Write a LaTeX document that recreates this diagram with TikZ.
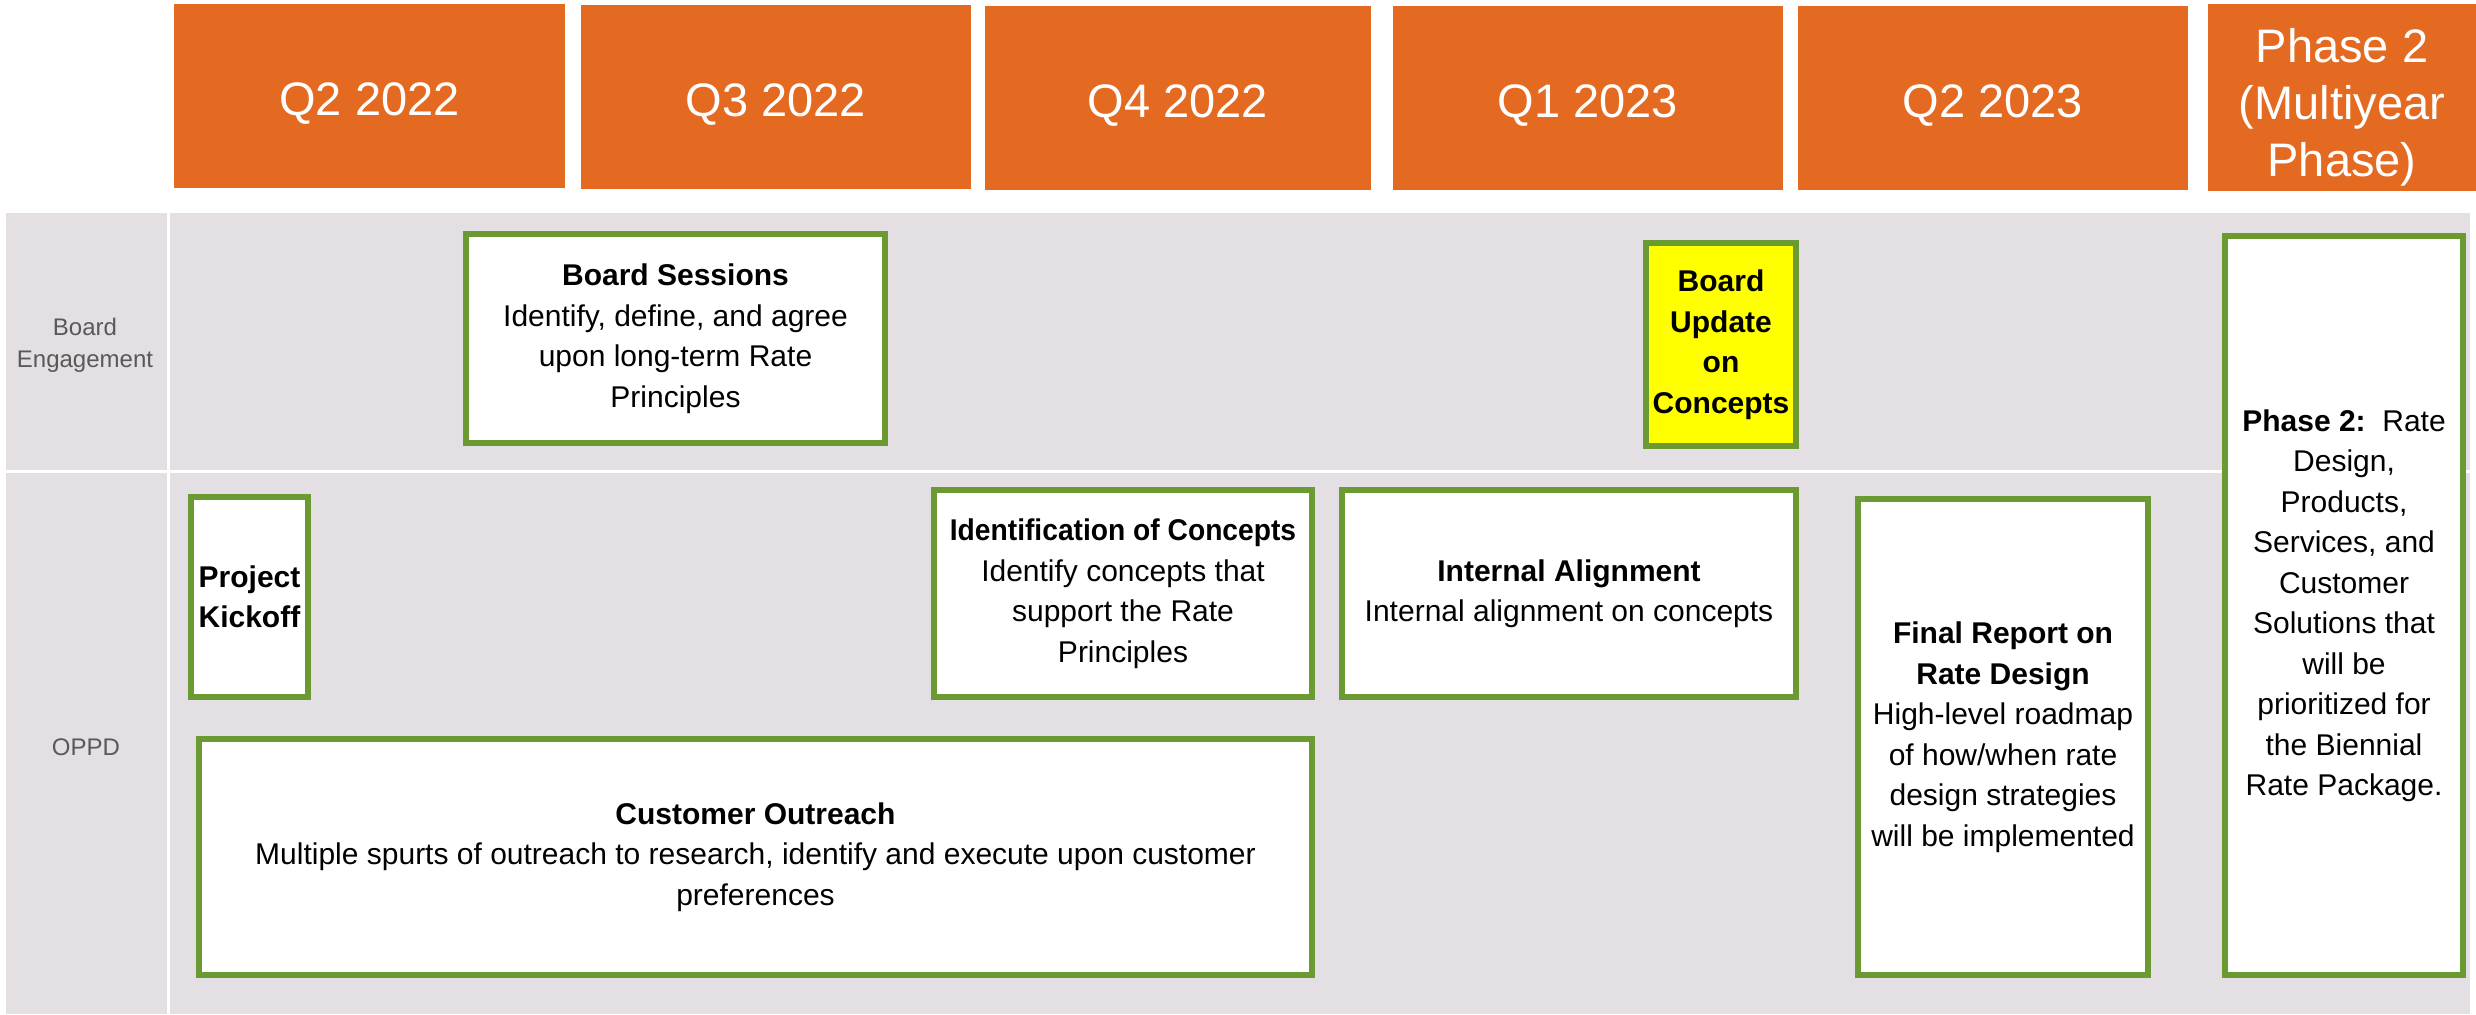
\documentclass[tikz,border=0pt]{standalone}
\usepackage{fontspec}
\setmainfont{Liberation Sans}
\definecolor{hdrorange}{HTML}{E46A22}
\definecolor{boxgreen}{HTML}{6C9A32}
\definecolor{bggrey}{HTML}{E3DFE3}
\definecolor{lblgrey}{HTML}{595959}
\definecolor{hiyellow}{HTML}{FFFF00}
\begin{document}
\begin{tikzpicture}[x=0.5pt,y=-0.5pt,
  hdr/.style={fill=hdrorange, inner sep=0pt, minimum height=92pt},
  hdrtext/.style={text=white, inner sep=0pt, align=center,
    font=\fontsize{23.5}{28.5}\selectfont},
  task/.style={draw=boxgreen, line width=3pt, fill=white, inner sep=0pt, align=center,
    font=\fontsize{15}{20.25}\selectfont},
  lbl/.style={text=lblgrey, align=center, inner sep=0pt, font=\fontsize{12}{16}\selectfont}]
\useasboundingbox (0,0) rectangle (2476,1014);
% background
\fill[bggrey] (6,213) rectangle (2470,1014);
\fill[white] (167,213) rectangle (170,1014);
\fill[white] (6,470) rectangle (2470,473);
% headers
\node[hdr, minimum width=195.5pt] (h1) at (369.5,96) {};
\node[hdr, minimum width=195pt] (h2) at (776,97) {};
\node[hdr, minimum width=193pt] (h3) at (1178,98) {};
\node[hdr, minimum width=195pt] (h4) at (1588,98) {};
\node[hdr, minimum width=195pt] (h5) at (1993,98) {};
\node[hdr, minimum width=134pt, minimum height=93.5pt] (h6) at (2342,97.5) {};
\node[hdrtext, yshift=-4pt] (t1) at (h1) {Q2 2022};
\node[hdrtext, yshift=-4pt] (t2) at (h2) {Q3 2022};
\node[hdrtext, yshift=-4pt] (t3) at (h3) {Q4 2022};
\node[hdrtext, yshift=-4pt] (t4) at (h4) {Q1 2023};
\node[hdrtext, yshift=-4pt] (t5) at (h5) {Q2 2023};
\node[hdrtext, yshift=-5pt] (t6) at (h6) {Phase 2\\(Multiyear\\Phase)};
% row labels
\node[lbl] (rowboard) at (85,345) {Board\\Engagement};
\node[lbl] (rowoppd) at (86,747) {OPPD};
% tasks
\node[task, minimum width=209.5pt, minimum height=104.5pt] (sessions) at (675.5,338.5)
  {\textbf{Board Sessions}\\Identify, define, and agree\\upon long-term Rate\\Principles};
\node[task, fill=hiyellow, minimum width=75pt, minimum height=101.5pt] (update) at (1721,344.5)
  {\textbf{Board}\\\textbf{Update}\\\textbf{on}\\\textbf{Concepts}};
\node[task, minimum width=119pt, minimum height=369.5pt] (phase) at (2344,605.5)
  {\textbf{Phase 2:}\ \ Rate\\Design,\\Products,\\Services, and\\Customer\\Solutions that\\will be\\prioritized for\\the Biennial\\Rate Package.};
\node[task, minimum width=58.5pt, minimum height=100pt] (kickoff) at (249.5,597)
  {\textbf{Project}\\\textbf{Kickoff}};
\node[task, minimum width=189pt, minimum height=103.5pt] (ident) at (1123,593.5)
  {\scalebox{0.94}[1]{\textbf{Identification of Concepts}}\\Identify concepts that\\support the Rate\\Principles};
\node[task, minimum width=227pt, minimum height=103.5pt] (align) at (1569,593.5)
  {\textbf{Internal Alignment}\\Internal alignment on concepts};
\node[task, minimum width=145pt, minimum height=238pt] (final) at (2003,737)
  {\textbf{Final Report on}\\\textbf{Rate Design}\\High-level roadmap\\of how/when rate\\design strategies\\will be implemented};
\node[task, minimum width=556.5pt, minimum height=118pt] (outreach) at (755.5,857)
  {\textbf{Customer Outreach}\\Multiple spurts of outreach to research, identify and execute upon customer\\preferences};
\end{tikzpicture}
\end{document}
